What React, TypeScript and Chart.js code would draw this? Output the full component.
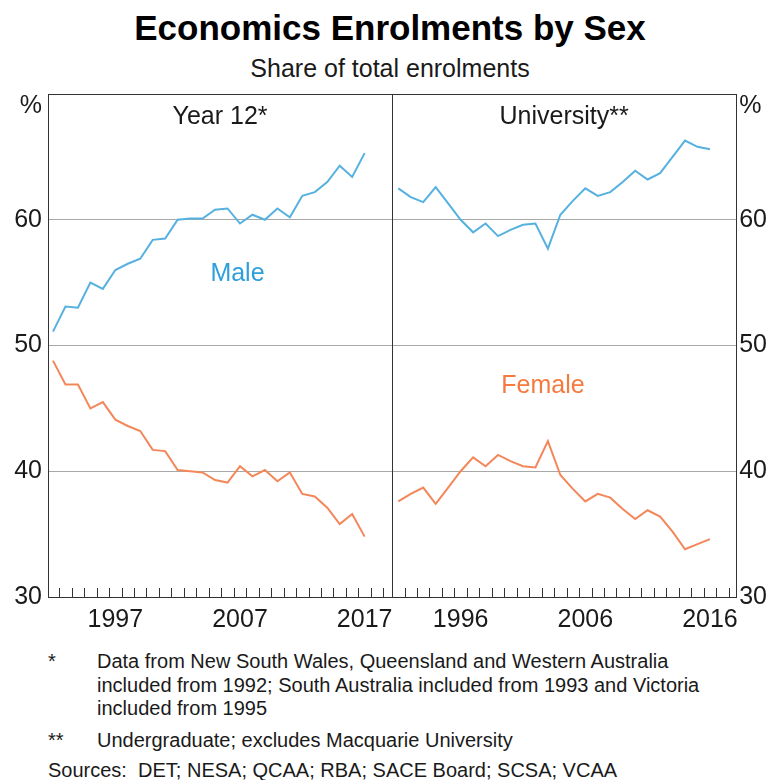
import React, { useEffect, useRef } from 'react';
import { Chart, registerables } from 'chart.js';

Chart.register(...registerables);

// ---------- data ----------
const year12Years = [1992, 1993, 1994, 1995, 1996, 1997, 1998, 1999, 2000, 2001, 2002, 2003, 2004, 2005, 2006, 2007, 2008, 2009, 2010, 2011, 2012, 2013, 2014, 2015, 2016, 2017];
const year12Male = [51.1, 53.1, 53.0, 55.0, 54.5, 56.0, 56.5, 56.9, 58.4, 58.5, 60.0, 60.1, 60.1, 60.8, 60.9, 59.7, 60.4, 60.0, 60.9, 60.2, 61.9, 62.2, 63.0, 64.3, 63.4, 65.3];
const year12Female = [48.8, 46.9, 46.9, 45.0, 45.5, 44.1, 43.6, 43.2, 41.7, 41.6, 40.1, 40.0, 39.9, 39.3, 39.1, 40.4, 39.6, 40.1, 39.2, 39.9, 38.2, 38.0, 37.1, 35.8, 36.6, 34.8];

const uniYears = [1991, 1992, 1993, 1994, 1995, 1996, 1997, 1998, 1999, 2000, 2001, 2002, 2003, 2004, 2005, 2006, 2007, 2008, 2009, 2010, 2011, 2012, 2013, 2014, 2015, 2016];
const uniMale = [62.5, 61.8, 61.4, 62.6, 61.3, 60.0, 59.0, 59.7, 58.7, 59.2, 59.6, 59.7, 57.7, 60.4, 61.5, 62.5, 61.9, 62.2, 63.0, 63.9, 63.2, 63.7, 65.0, 66.3, 65.8, 65.6];
const uniFemale = [37.6, 38.2, 38.7, 37.4, 38.7, 40.0, 41.1, 40.4, 41.3, 40.8, 40.4, 40.3, 42.4, 39.7, 38.6, 37.6, 38.2, 37.9, 37.0, 36.2, 36.9, 36.4, 35.2, 33.8, 34.2, 34.6];

const leftTickLabels = [1997, 2007, 2017];
const rightTickLabels = [1996, 2006, 2016];
const yTickValues = [30, 40, 50, 60, 70];

const panelTitles = ['Year 12*', 'University**'];
const seriesNames = ['Male', 'Female'];

// ---------- styles ----------
const FONT = 'Arial, "Liberation Sans", Helvetica, sans-serif';
const MALE_LINE = '#56b1e0';
const FEMALE_LINE = '#f4875a';
const MALE_TEXT = '#2f9fdc';
const FEMALE_TEXT = '#f47a40';
const FRAME = '#333333';
const GRID = '#a8a8a8';
const TEXT = '#1a1a1a';

const toPoints = (years: number[], vals: number[]) => years.map((y, i) => ({ x: y + 0.5, y: vals[i] }));

const framePlugin = {
  id: 'framePlugin',
  afterDraw(chart: any) {
    const { ctx, chartArea } = chart;
    const xl = chart.scales.xl;
    const xr = chart.scales.xr;
    const ys = chart.scales.y;
    ctx.save();
    ctx.strokeStyle = FRAME;
    ctx.lineWidth = 1;
    // top border and divider
    ctx.beginPath();
    ctx.moveTo(chartArea.left, chartArea.top + 0.5);
    ctx.lineTo(chartArea.right, chartArea.top + 0.5);
    const dx = Math.round(xr.left) + 0.5;
    ctx.moveTo(dx, chartArea.top);
    ctx.lineTo(dx, chartArea.bottom);
    ctx.stroke();
    // inner year ticks
    ctx.beginPath();
    [xl, xr].forEach((s: any) => {
      for (let yr = Math.ceil(s.min); yr <= Math.floor(s.max); yr++) {
        const px = Math.round(s.getPixelForValue(yr)) + 0.5;
        ctx.moveTo(px, chartArea.bottom);
        ctx.lineTo(px, chartArea.bottom - 9);
      }
    });
    ctx.stroke();

    // % unit labels
    ctx.fillStyle = TEXT;
    ctx.font = `25px ${FONT}`;
    ctx.textBaseline = 'middle';
    const pctY = ys.getPixelForValue(70) + 12;
    ctx.textAlign = 'right';
    ctx.fillText('%', chartArea.left - 6, pctY);
    ctx.textAlign = 'left';
    ctx.fillText('%', chartArea.right + 3, pctY);

    // panel titles
    ctx.textAlign = 'center';
    ctx.fillText(panelTitles[0], (xl.left + xl.right) / 2, chartArea.top + 23);
    ctx.fillText(panelTitles[1], (xr.left + xr.right) / 2, chartArea.top + 23);

    // series labels
    ctx.fillStyle = MALE_TEXT;
    ctx.fillText(seriesNames[0], xl.getPixelForValue(2007.3), ys.getPixelForValue(55.7));
    ctx.fillStyle = FEMALE_TEXT;
    ctx.fillText(seriesNames[1], xr.getPixelForValue(2003.1), ys.getPixelForValue(46.8));
    ctx.restore();
  },
};

const xAxis = (min: number, max: number, labels: number[]) => ({
  type: 'linear' as const,
  position: 'bottom' as const,
  stack: 'panels',
  stackWeight: 1,
  min,
  max,
  grid: { display: false, drawTicks: false },
  border: { display: true, color: FRAME, width: 1 },
  ticks: {
    color: TEXT,
    font: { family: FONT, size: 25 },
    padding: 8,
    maxRotation: 0,
    autoSkip: false,
    callback: (v: any) => String(Math.floor(Number(v))),
  },
  afterBuildTicks: (s: any) => {
    s.ticks = labels.map((y) => ({ value: y + 0.5 }));
  },
  afterFit: (s: any) => {
    s.height = 48;
  },
});

const ChartPanel: React.FC = () => {
  const ref = useRef<HTMLCanvasElement | null>(null);
  useEffect(() => {
    if (!ref.current) return;
    const chart = new Chart(ref.current, {
      type: 'line',
      data: {
        datasets: [
          { label: 'Year 12 Male', data: toPoints(year12Years, year12Male), xAxisID: 'xl', yAxisID: 'y', borderColor: MALE_LINE, borderWidth: 2, pointRadius: 0, tension: 0, fill: false },
          { label: 'Year 12 Female', data: toPoints(year12Years, year12Female), xAxisID: 'xl', yAxisID: 'y', borderColor: FEMALE_LINE, borderWidth: 2, pointRadius: 0, tension: 0, fill: false },
          { label: 'University Male', data: toPoints(uniYears, uniMale), xAxisID: 'xr', yAxisID: 'y', borderColor: MALE_LINE, borderWidth: 2, pointRadius: 0, tension: 0, fill: false },
          { label: 'University Female', data: toPoints(uniYears, uniFemale), xAxisID: 'xr', yAxisID: 'y', borderColor: FEMALE_LINE, borderWidth: 2, pointRadius: 0, tension: 0, fill: false },
        ],
      },
      options: {
        animation: false,
        responsive: false,
        maintainAspectRatio: false,
        layout: { padding: { top: 15, left: 0, right: 0, bottom: 0 } },
        plugins: { legend: { display: false }, tooltip: { enabled: false }, title: { display: false } },
        scales: {
          xl: xAxis(1992.1, 2019.7, leftTickLabels),
          xr: xAxis(1991.0, 2018.6, rightTickLabels),
          y: {
            type: 'linear',
            position: 'left',
            min: 30,
            max: 70,
            afterBuildTicks: (s: any) => {
              s.ticks = yTickValues.map((v) => ({ value: v }));
            },
            grid: {
              drawTicks: false,
              lineWidth: 1,
              color: (c: any) => (c.tick && (c.tick.value === 30 || c.tick.value === 70) ? 'rgba(0,0,0,0)' : GRID),
            },
            border: { display: true, color: FRAME, width: 1 },
            ticks: {
              color: TEXT,
              font: { family: FONT, size: 25 },
              padding: 6,
              callback: (v: any) => (Number(v) === 70 ? '' : String(v)),
            },
            afterFit: (s: any) => {
              s.width = 48;
            },
          },
          y2: {
            type: 'linear',
            position: 'right',
            min: 30,
            max: 70,
            afterBuildTicks: (s: any) => {
              s.ticks = yTickValues.map((v) => ({ value: v }));
            },
            grid: { display: false, drawTicks: false },
            border: { display: true, color: FRAME, width: 1 },
            ticks: {
              color: TEXT,
              font: { family: FONT, size: 25 },
              padding: 3,
              callback: (v: any) => (Number(v) === 70 ? '' : String(v)),
            },
            afterFit: (s: any) => {
              s.width = 30;
            },
          },
        },
      } as any,
      plugins: [framePlugin],
    });
    return () => chart.destroy();
  }, []);
  return (
    <canvas
      ref={ref}
      width={767}
      height={572}
      style={{ position: 'absolute', left: 0, top: 73, width: 767, height: 572 }}
    />
  );
};

const noteStyle: React.CSSProperties = {
  position: 'absolute',
  fontFamily: FONT,
  fontSize: 20,
  lineHeight: '23.5px',
  color: TEXT,
  margin: 0,
  whiteSpace: 'nowrap',
};

export default function App() {
  return (
    <div style={{ position: 'absolute', left: 0, top: 0, width: 767, height: 780, background: '#fff', overflow: 'hidden' }}>
      <div
        style={{
          position: 'absolute',
          left: 0,
          top: 8,
          width: 780,
          textAlign: 'center',
          fontFamily: FONT,
          fontWeight: 'bold',
          fontSize: 35,
          lineHeight: '40px',
          color: '#000',
        }}
      >
        Economics Enrolments by Sex
      </div>
      <div
        style={{
          position: 'absolute',
          left: 0,
          top: 53,
          width: 780,
          textAlign: 'center',
          fontFamily: FONT,
          fontSize: 25,
          lineHeight: '30px',
          color: TEXT,
        }}
      >
        Share of total enrolments
      </div>
      <ChartPanel />
      <div style={{ ...noteStyle, left: 48, top: 650 }}>*</div>
      <div style={{ ...noteStyle, left: 97, top: 650 }}>
        Data from New South Wales, Queensland and Western Australia
        <br />
        included from 1992; South Australia included from 1993 and Victoria
        <br />
        included from 1995
      </div>
      <div style={{ ...noteStyle, left: 48, top: 729 }}>**</div>
      <div style={{ ...noteStyle, left: 97, top: 729 }}>Undergraduate; excludes Macquarie University</div>
      <div style={{ ...noteStyle, left: 48, top: 759 }}>Sources:&nbsp;&nbsp;DET; NESA; QCAA; RBA; SACE Board; SCSA; VCAA</div>
    </div>
  );
}
